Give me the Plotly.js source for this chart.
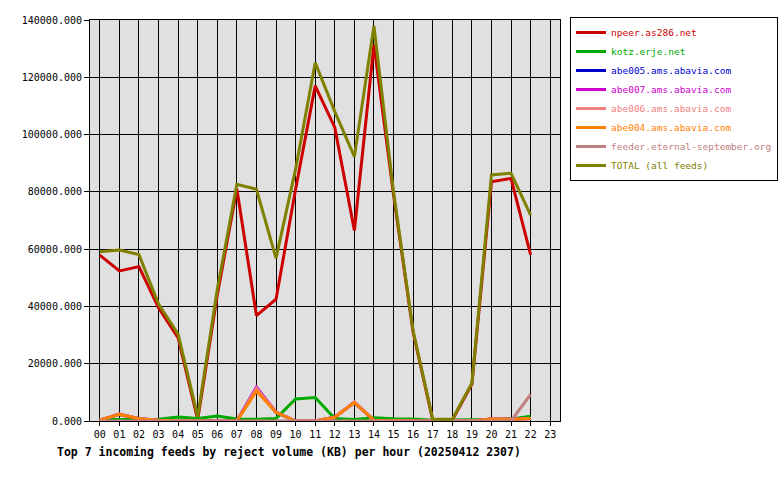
<!DOCTYPE html>
<html>
<head>
<meta charset="utf-8">
<script src="https://cdn.plot.ly/plotly-3.0.1.min.js"></script>
<style>
  body { margin: 0; background: #ffffff; }
  #feeds_chart { width: 780px; height: 480px; }
</style>
</head>
<body>
<div id="feeds_chart"></div>
<script>
// hours of the day (last one has no data yet)
var hours = ['00','01','02','03','04','05','06','07','08','09','10','11',
             '12','13','14','15','16','17','18','19','20','21','22','23']

// reject volume in KB per hour, hours 00..22
var npeer  = [57900, 52400, 53900, 39500, 29000, 500, 44000, 81000, 36800, 42500, 81000, 117000,
              102500, 66500, 131500, 79000, 31000, 300, 300, 12800, 83500, 84700, 58000]
var kotz   = [500, 400, 500, 600, 1400, 900, 1700, 700, 600, 900, 7700, 8200,
              900, 500, 1100, 800, 700, 300, 300, 400, 500, 700, 1700]
var abe005 = [300, 2300, 800, 300, 100, 0, 0, 0, 11600, 3000, 0, 0,
              1300, 6500, 200, 0, 0, 0, 0, 0, 700, 600, 900]
var abe007 = [300, 2400, 800, 300, 100, 0, 0, 0, 11800, 3100, 0, 0,
              1300, 6600, 200, 0, 0, 0, 0, 0, 700, 600, 900]
var abe006 = [300, 2400, 800, 300, 100, 0, 0, 0, 11400, 3100, 0, 0,
              1300, 6600, 200, 0, 0, 0, 0, 0, 700, 600, 900]
var abe004 = [300, 2300, 800, 300, 100, 0, 0, 0, 10500, 3000, 0, 0,
              1300, 6500, 200, 0, 0, 0, 0, 0, 700, 600, 900]
var feeder = [0, 0, 0, 0, 0, 0, 0, 0, 0, 0, 0, 0,
              0, 0, 0, 0, 0, 0, 0, 0, 0, 0, 9300]
var total  = [59100, 59700, 58100, 40800, 30300, 1500, 46000, 82600, 80900, 56800, 88000, 125100,
              108000, 92300, 137900, 80000, 31500, 600, 600, 13200, 85900, 86500, 71900]

var feed_names  = ['npeer.as286.net', 'kotz.erje.net', 'abe005.ams.abavia.com', 'abe007.ams.abavia.com',
                   'abe006.ams.abavia.com', 'abe004.ams.abavia.com', 'feeder.eternal-september.org', 'TOTAL (all feeds)']
var feed_values = [npeer, kotz, abe005, abe007, abe006, abe004, feeder, total]
var feed_colors = ['#cc0000', '#00aa00', '#0000cc', '#cc00cc', '#f08080', '#ff8000', '#c08080', '#808000']

var mono = 'DejaVu Sans Mono, Liberation Mono, monospace'

var data = []
for (i=0; i<feed_names.length; i++) {
    data.push({
        x: hours.slice(0, feed_values[i].length),
        y: feed_values[i],
        name: `<span style="color:${feed_colors[i]}">${feed_names[i]}</span>`,
        type: 'scatter',
        mode: 'lines',
        line: {color: feed_colors[i], width: 3},
        hoverinfo: 'skip'
    })
}

var layout = {
    width: 780,
    height: 480,
    margin: {l: 90, r: 220, t: 20, b: 59, pad: 0, autoexpand: false},
    paper_bgcolor: '#ffffff',
    plot_bgcolor: '#e0e0e0',
    font: {family: mono, size: 10, color: '#000000'},
    showlegend: true,
    xaxis: {
        type: 'category',
        categoryorder: 'array',
        categoryarray: hours,
        range: [-0.5, 23.5],
        showgrid: true,
        gridcolor: '#000000',
        gridwidth: 1,
        showline: true,
        mirror: true,
        linecolor: '#000000',
        linewidth: 1,
        ticks: 'outside',
        ticklen: 4,
        tickcolor: '#000000',
        tickfont: {family: mono, size: 10, color: '#000000'},
        fixedrange: true
    },
    yaxis: {
        range: [0, 140000],
        dtick: 20000,
        tick0: 0,
        tickformat: '.3f',
        showgrid: true,
        gridcolor: '#000000',
        gridwidth: 1,
        zeroline: true,
        zerolinecolor: '#000000',
        showline: true,
        mirror: true,
        linecolor: '#000000',
        linewidth: 1,
        ticks: 'outside',
        ticklen: 5,
        tickcolor: '#000000',
        tickfont: {family: mono, size: 10, color: '#000000'},
        fixedrange: true
    },
    legend: {
        x: 1.0213,
        xanchor: 'left',
        y: 1.0075,
        yanchor: 'top',
        bgcolor: '#ffffff',
        bordercolor: '#000000',
        borderwidth: 1,
        font: {family: mono, size: 9.5},
        itemwidth: 30,
        tracegroupgap: 0
    },
    annotations: [{
        text: 'Top 7 incoming feeds by reject volume (KB) per hour (20250412 2307)',
        xref: 'paper', yref: 'paper',
        x: -0.0745, xanchor: 'left',
        y: -0.077, yanchor: 'middle',
        showarrow: false,
        font: {family: mono, size: 11.5, color: '#000000', weight: 'bold'}
    }]
}

Plotly.newPlot('feeds_chart', data, layout, {displayModeBar: false, staticPlot: true})
</script>
</body>
</html>
